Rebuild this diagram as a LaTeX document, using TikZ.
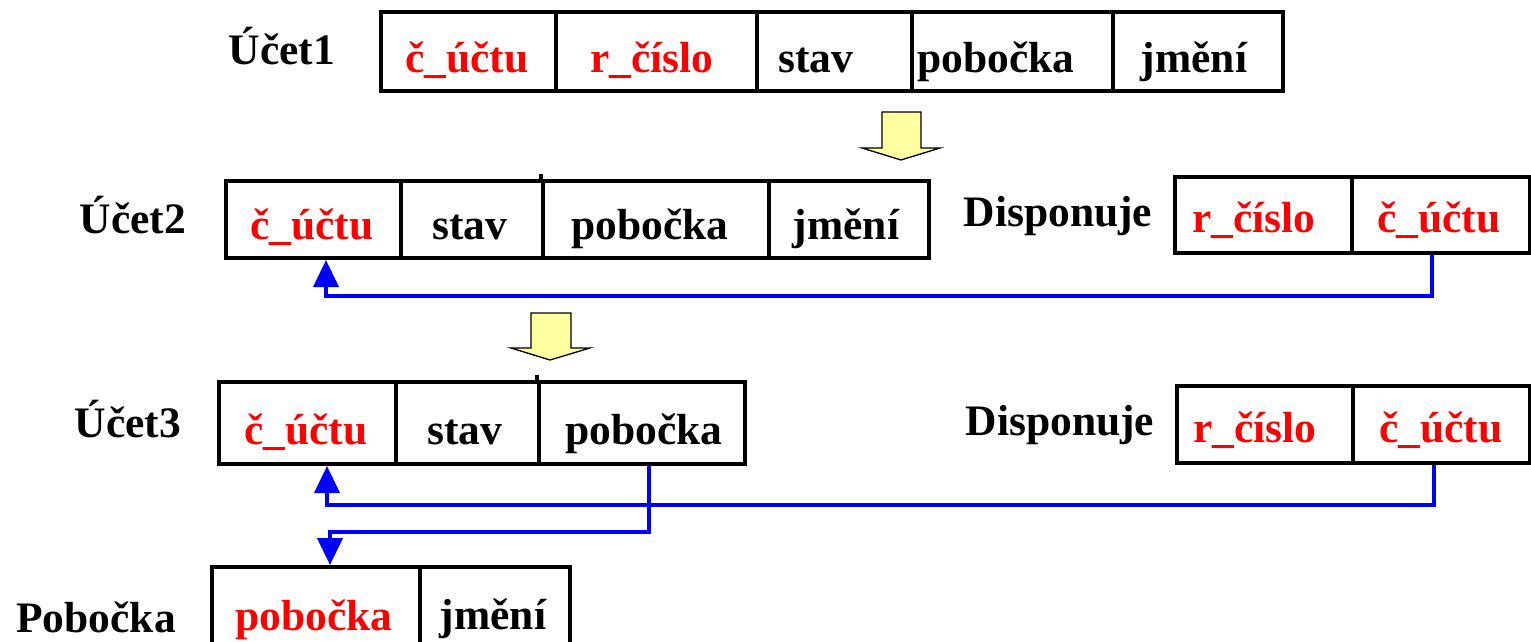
\documentclass[tikz,border=0pt]{standalone}
\usepackage{fontspec}
\setmainfont{Liberation Serif}
\usetikzlibrary{arrows.meta}
\definecolor{keyred}{RGB}{255,0,0}
\definecolor{linkblue}{RGB}{0,0,255}
\definecolor{hintyellow}{RGB}{255,255,160}
\begin{document}
\begin{tikzpicture}[x=1pt,y=-1pt,
  cell/.style={draw=black,line width=4pt,inner sep=0pt,rectangle},
  txt/.style={anchor=base,inner sep=0pt,font=\fontsize{43.5}{50}\selectfont\bfseries},
  keytxt/.style={txt,text=keyred},
  conn/.style={draw=linkblue,line width=4pt,line join=miter,-{Triangle[width=25pt,length=27pt]}},
  hint/.style={draw=black,line width=1.3pt,fill=hintyellow,line join=miter}]
\useasboundingbox (0,0) rectangle (1531,642);
\clip (0,0) rectangle (1531,642);

% ---- row 1: Ucet1
\node[cell,minimum width=175pt,minimum height=79pt] (u1a) at (468.5,51.5) {};
\node[cell,minimum width=201pt,minimum height=79pt] (u1b) at (656.5,51.5) {};
\node[cell,minimum width=155pt,minimum height=79pt] (u1c) at (834.5,51.5) {};
\node[cell,minimum width=201pt,minimum height=79pt] (u1d) at (1012.5,51.5) {};
\node[cell,minimum width=170pt,minimum height=79pt] (u1e) at (1198,51.5) {};
\node[txt] (l1) at (282,64) {Účet1};
\node[keytxt] (t1a) at (467,72) {č\_účtu};
\node[keytxt] (t1b) at (652,72) {r\_číslo};
\node[txt] (t1c) at (816,72) {stav};
\node[txt] (t1d) at (996,72) {pobočka};
\node[txt] (t1e) at (1194,72) {jmění};

% hint arrow 1
\draw[hint] (882,112) -- (921,112) -- (921,148) -- (940,148) -- (901,160) -- (862,148) -- (882,148) -- cycle;

% ---- row 2: Ucet2
\node[cell,minimum width=175pt,minimum height=77pt] (u2a) at (313.5,219.5) {};
\node[cell,minimum width=142pt,minimum height=77pt] (u2b) at (472,219.5) {};
\node[cell,minimum width=226pt,minimum height=77pt] (u2c) at (656,219.5) {};
\node[cell,minimum width=160pt,minimum height=77pt] (u2d) at (849,219.5) {};
\draw[line width=4pt] (u2c.north west) -- ++(0,-5);
\node[txt] (l2) at (133,233) {Účet2};
\node[keytxt] (t2a) at (312,239) {č\_účtu};
\node[txt] (t2b) at (470,239) {stav};
\node[txt] (t2c) at (650,239) {pobočka};
\node[txt] (t2d) at (846,239) {jmění};

% Disponuje (row 2)
\node[cell,minimum width=177pt,minimum height=76pt] (d2a) at (1263.5,215) {};
\node[cell,minimum width=178pt,minimum height=76pt] (d2b) at (1441,215) {};
\node[txt] (ld2) at (1058,226) {Disponuje};
\node[keytxt] (s2a) at (1254,232) {r\_číslo};
\node[keytxt] (s2b) at (1439,232) {č\_účtu};

% connector row 2
\coordinate (k1a) at (1432,296);
\coordinate (k1b) at (326,296);
\draw[conn] (d2b.south -| k1a) -- (k1a) -- (k1b) -- (u2a.south -| k1b);

% hint arrow 2
\draw[hint] (531,313) -- (571,313) -- (571,348) -- (590,348) -- (550,360) -- (511,348) -- (531,348) -- cycle;

% ---- row 3: Ucet3
\node[cell,minimum width=177pt,minimum height=82pt] (u3a) at (307.5,423) {};
\node[cell,minimum width=143pt,minimum height=82pt] (u3b) at (467.5,423) {};
\node[cell,minimum width=206pt,minimum height=82pt] (u3c) at (642,423) {};
\draw[line width=4pt] (u3c.north west) -- ++(0,-5);
\node[txt] (l3) at (128,437) {Účet3};
\node[keytxt] (t3a) at (306,444) {č\_účtu};
\node[txt] (t3b) at (465,444) {stav};
\node[txt] (t3c) at (644,444) {pobočka};

% Disponuje (row 3)
\node[cell,minimum width=176pt,minimum height=77pt] (d3a) at (1265,424.5) {};
\node[cell,minimum width=177pt,minimum height=77pt] (d3b) at (1441.5,424.5) {};
\node[txt] (ld3) at (1060,435) {Disponuje};
\node[keytxt] (s3a) at (1255,442) {r\_číslo};
\node[keytxt] (s3b) at (1441,442) {č\_účtu};

% ---- row 4: Pobocka
\node[cell,minimum width=208pt,minimum height=93pt] (pa) at (316,613.5) {};
\node[cell,minimum width=150pt,minimum height=93pt] (pb) at (495,613.5) {};
\node[txt] (l4) at (96,632) {Pobočka};
\node[keytxt] (t4a) at (314,630) {pobočka};
\node[txt] (t4b) at (493,629) {jmění};

% connectors row 3
\coordinate (k2a) at (1434,505);
\coordinate (k2b) at (327,505);
\draw[conn] (d3b.south -| k2a) -- (k2a) -- (k2b) -- (u3a.south -| k2b);
\coordinate (k3a) at (649,532);
\coordinate (k3b) at (330,532);
\draw[conn] (u3c.south -| k3a) -- (k3a) -- (k3b) -- (pa.north -| k3b);
\end{tikzpicture}
\end{document}
